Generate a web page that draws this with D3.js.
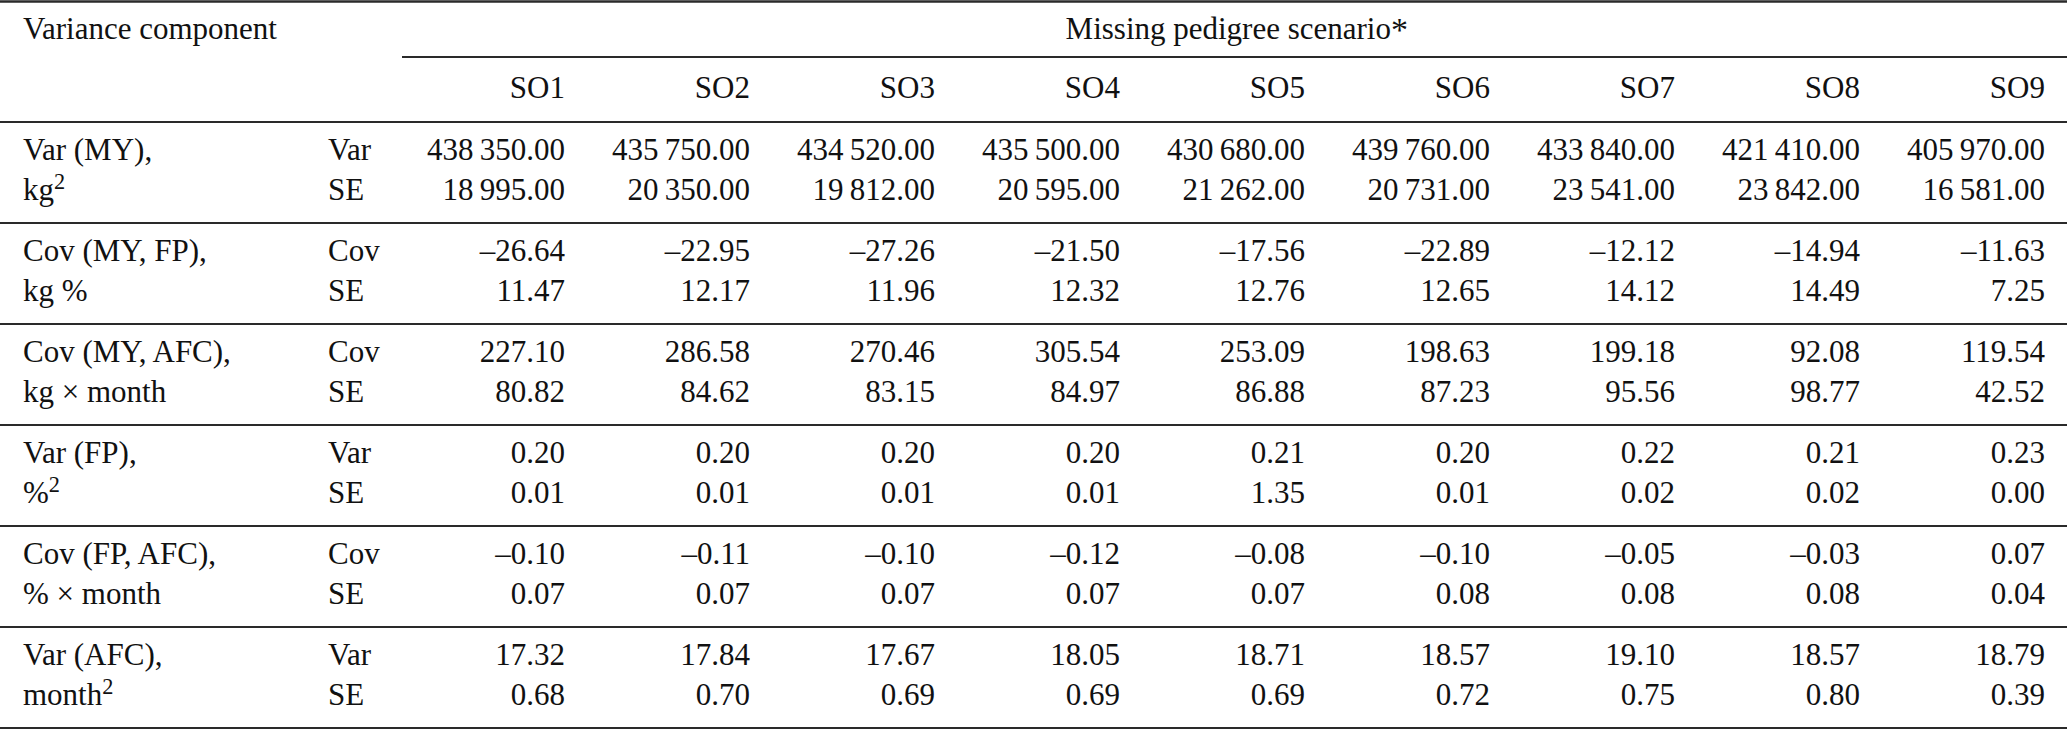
<!DOCTYPE html>
<html>
<head>
<meta charset="utf-8">
<script src="https://cdn.jsdelivr.net/npm/d3@7"></script>
<style>
  html, body { margin: 0; padding: 0; background: #fff; }
  svg text { font-family: "Liberation Serif", "Times New Roman", serif; fill: #111; }
</style>
</head>
<body>
<svg id="chart" width="2067" height="733"></svg>
<script>
// ---- data ----
const scenarios = ["SO1", "SO2", "SO3", "SO4", "SO5", "SO6", "SO7", "SO8", "SO9"];
const componentLabels = ["Var (MY),", "Cov (MY, FP),", "Cov (MY, AFC),", "Var (FP),", "Cov (FP, AFC),", "Var (AFC),"];
const componentUnits = [["kg", "2"], ["kg %", ""], ["kg \u00d7 month", ""], ["%", "2"], ["% \u00d7 month", ""], ["month", "2"]];
const statTypes = ["Var", "Cov", "Cov", "Var", "Cov", "Var"];

const varMY      = [438350.00, 435750.00, 434520.00, 435500.00, 430680.00, 439760.00, 433840.00, 421410.00, 405970.00];
const varMY_SE   = [18995.00, 20350.00, 19812.00, 20595.00, 21262.00, 20731.00, 23541.00, 23842.00, 16581.00];
const covMYFP    = [-26.64, -22.95, -27.26, -21.50, -17.56, -22.89, -12.12, -14.94, -11.63];
const covMYFP_SE = [11.47, 12.17, 11.96, 12.32, 12.76, 12.65, 14.12, 14.49, 7.25];
const covMYAFC   = [227.10, 286.58, 270.46, 305.54, 253.09, 198.63, 199.18, 92.08, 119.54];
const covMYAFC_SE= [80.82, 84.62, 83.15, 84.97, 86.88, 87.23, 95.56, 98.77, 42.52];
const varFP      = [0.20, 0.20, 0.20, 0.20, 0.21, 0.20, 0.22, 0.21, 0.23];
const varFP_SE   = [0.01, 0.01, 0.01, 0.01, 1.35, 0.01, 0.02, 0.02, 0.00];
const covFPAFC   = [-0.10, -0.11, -0.10, -0.12, -0.08, -0.10, -0.05, -0.03, 0.07];
const covFPAFC_SE= [0.07, 0.07, 0.07, 0.07, 0.07, 0.08, 0.08, 0.08, 0.04];
const varAFC     = [17.32, 17.84, 17.67, 18.05, 18.71, 18.57, 19.10, 18.57, 18.79];
const varAFC_SE  = [0.68, 0.70, 0.69, 0.69, 0.69, 0.72, 0.75, 0.80, 0.39];

const estimates = [varMY, covMYFP, covMYAFC, varFP, covFPAFC, varAFC];
const standardErrors = [varMY_SE, covMYFP_SE, covMYAFC_SE, varFP_SE, covFPAFC_SE, varAFC_SE];

// ---- layout ----
const W = 2067, H = 733;
const fontSize = 31;
const svg = d3.select("#chart");

const locale = d3.formatLocale({decimal: ".", thousands: "\u2009", grouping: [3], currency: ["", ""], minus: "\u2013"});
const fmt = locale.format(",.2f");

// column right edges
const x = d3.scaleLinear().domain([0, scenarios.length - 1]).range([565, 2045]);
const labelX = 23, typeX = 328, subLineX0 = 402;

// group y positions
const topLineY = 1.5, headLineY = 57, headBottomY = 122, groupH = 101;
const gy = d3.scaleLinear().domain([0, componentLabels.length]).range([headBottomY, headBottomY + groupH * componentLabels.length]);

const lineColor = "#2a2a2a";
function hline(y, x0, x1, w) {
  svg.append("line").attr("x1", x0).attr("x2", x1).attr("y1", y).attr("y2", y)
    .attr("stroke", lineColor).attr("stroke-width", w);
}

hline(topLineY, 0, W, 2.5);
hline(headLineY, subLineX0, W, 2);
d3.range(componentLabels.length + 1).forEach(i => hline(gy(i), 0, W, 2));

// header texts
svg.append("text").attr("x", labelX).attr("y", 39).attr("font-size", fontSize).text("Variance component");
const mh = svg.append("text").attr("x", 1408).attr("y", 39)
  .attr("font-size", fontSize).attr("text-anchor", "end");
mh.append("tspan").text("Missing pedigree scenario");
mh.append("tspan").attr("dy", 2).attr("font-size", 34).attr("font-weight", 300).text("*");

svg.selectAll("text.so").data(scenarios).join("text").attr("class", "so")
  .attr("x", (d, i) => x(i)).attr("y", 98).attr("text-anchor", "end")
  .attr("font-size", fontSize).text(d => d);

// body
const row1 = 38, row2 = 78;
componentLabels.forEach((lab, gi) => {
  const y0 = gy(gi);
  svg.append("text").attr("x", labelX).attr("y", y0 + row1).attr("font-size", fontSize).text(lab);
  const u = svg.append("text").attr("x", labelX).attr("y", y0 + row2).attr("font-size", fontSize);
  u.append("tspan").text(componentUnits[gi][0]);
  if (componentUnits[gi][1]) {
    u.append("tspan").attr("dy", -11).attr("font-size", fontSize * 0.72).text(componentUnits[gi][1]);
  }
  svg.append("text").attr("x", typeX).attr("y", y0 + row1).attr("font-size", fontSize).text(statTypes[gi]);
  svg.append("text").attr("x", typeX).attr("y", y0 + row2).attr("font-size", fontSize).text("SE");

  svg.selectAll(null).data(estimates[gi]).join("text")
    .attr("x", (d, i) => x(i)).attr("y", y0 + row1).attr("text-anchor", "end")
    .attr("font-size", fontSize).text(d => fmt(d));
  svg.selectAll(null).data(standardErrors[gi]).join("text")
    .attr("x", (d, i) => x(i)).attr("y", y0 + row2).attr("text-anchor", "end")
    .attr("font-size", fontSize).text(d => fmt(d));
});
</script>
</body>
</html>
